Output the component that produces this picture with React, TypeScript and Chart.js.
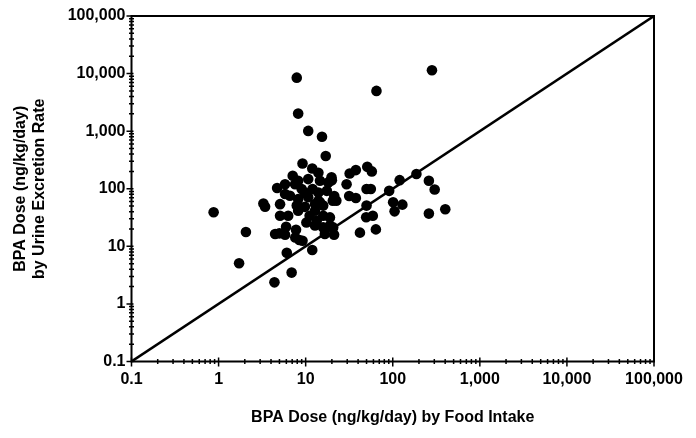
import React, { useEffect, useRef } from 'react';
import { Chart, registerables } from 'chart.js';

Chart.register(...registerables);

// BPA dose by food intake (x) and by urine excretion rate (y), ng/kg/day
const foodIntake = [
  7.9, 282, 65, 8.2, 10.7, 15.4, 17, 9.2, 11.9, 7.1,
  32, 37.7, 51, 57.5, 187, 120, 260, 303, 91, 29.5,
  50, 56, 31.6, 37.7, 21.3, 20.5, 22.5, 50, 101, 129,
  105, 260, 401, 49.5, 59, 64, 42, 0.877, 2.06, 1.72,
  3.27, 3.42, 4.7, 6.07, 4.38, 6.9, 11.9, 4.46, 4.99, 5.96,
  5.8, 7.75, 7.6, 8.46, 9.2, 15.9, 16.6, 20.7, 21.2, 5.08,
  5.8, 7.55, 10.7, 14.6, 18.2, 17.5, 14, 10.7, 8.2, 6.6,
  9.0, 12, 5.08, 6.3, 8.2, 9.8, 11.1, 10.2, 13.4, 15.9,
  19, 12.8, 14, 19.8, 8.2, 5.8, 9.8, 14, 12.8, 15.9,
  7.9, 12.8, 19, 20, 14.6,
];
const urineExcretion = [
  8500, 11400, 5000, 2020, 1010, 800, 370, 275, 225, 168,
  184, 211, 240, 200, 180, 141, 138, 97, 92, 120,
  99, 99, 75, 69, 75, 62, 62, 51, 58, 53,
  40.5, 37, 44, 32, 34, 19.7, 17.3, 39, 17.7, 5.07,
  55.6, 48.7, 103, 7.7, 2.37, 3.5, 8.65, 16.4, 16.8, 21.9,
  15.9, 19.4, 14.3, 12.9, 12.5, 21.3, 16.4, 21.3, 15.9, 54,
  81, 120, 147, 138, 129, 92, 62, 71, 66, 75.5,
  98.6, 98.6, 34, 34, 41.5, 48.5, 34, 26, 27.9, 34,
  31.8, 41.5, 190, 158, 138, 120, 86, 86, 54, 51,
  51, 23, 23, 140, 58,
];

const decadeValues = [0.1, 1, 10, 100, 1000, 10000, 100000];
const decadeLabels = ['0.1', '1', '10', '100', '1,000', '10,000', '100,000'];
const identityLine = [0.1, 100000];

const xTitle = 'BPA Dose (ng/kg/day) by Food Intake';
const yTitle = ['BPA Dose (ng/kg/day)', 'by Urine Excretion Rate'];

const FONT = '"Liberation Sans", Arial, sans-serif';

function allTickValues(): number[] {
  const vals: number[] = [];
  for (let i = 0; i < decadeValues.length - 1; i++) {
    for (let m = 1; m <= 9; m++) vals.push(m * decadeValues[i]);
  }
  vals.push(decadeValues[decadeValues.length - 1]);
  return vals;
}

function decadeIndex(v: number): number {
  return decadeValues.findIndex((d) => Math.abs(Math.log10(v) - Math.log10(d)) < 1e-6);
}

const framePlugin = {
  id: 'frameTicks',
  afterDraw(chart: any) {
    const { ctx, chartArea } = chart;
    const { left, right, top, bottom } = chartArea;
    const xs = chart.scales.x;
    const ys = chart.scales.y;
    ctx.save();
    ctx.strokeStyle = '#000';
    ctx.lineWidth = 2;
    ctx.strokeRect(left, top, right - left, bottom - top);
    ctx.lineWidth = 1.5;
    ctx.beginPath();
    for (const v of allTickValues()) {
      const major = decadeIndex(v) >= 0;
      const px = xs.getPixelForValue(v);
      if (major) {
        ctx.moveTo(px, bottom - 4);
        ctx.lineTo(px, bottom + 5);
      } else {
        ctx.moveTo(px, bottom - 2.5);
        ctx.lineTo(px, bottom + 2.5);
      }
      const py = ys.getPixelForValue(v);
      if (major) {
        ctx.moveTo(left - 5, py);
        ctx.lineTo(left + 2, py);
      } else {
        ctx.moveTo(left - 2.5, py);
        ctx.lineTo(left + 2.5, py);
      }
    }
    ctx.stroke();
    ctx.restore();
  },
};

function tickConfig(padding: number) {
  return {
    autoSkip: false,
    maxRotation: 0,
    minRotation: 0,
    padding,
    color: '#000',
    font: { family: FONT, size: 16, weight: 'bold' as const },
    callback: (value: any) => {
      const i = decadeIndex(Number(value));
      return i >= 0 ? decadeLabels[i] : '';
    },
  };
}

export default function App() {
  const canvasRef = useRef<HTMLCanvasElement | null>(null);

  useEffect(() => {
    if (!canvasRef.current) return;
    const points = foodIntake.map((x, i) => ({ x, y: urineExcretion[i] }));
    const line = identityLine.map((v) => ({ x: v, y: v }));
    const chart = new Chart(canvasRef.current, {
      type: 'scatter',
      data: {
        datasets: [
          {
            data: points,
            backgroundColor: '#000',
            borderColor: '#000',
            borderWidth: 0,
            pointRadius: 5.3,
            order: 0,
          },
          {
            data: line,
            showLine: true,
            borderColor: '#000',
            borderWidth: 2.5,
            pointRadius: 0,
            order: 1,
          } as any,
        ],
      },
      options: {
        animation: false,
        responsive: false,
        devicePixelRatio: 1,
        layout: { padding: { top: 16, right: 42, left: 0, bottom: 0 } },
        plugins: { legend: { display: false }, tooltip: { enabled: false } },
        scales: {
          x: {
            type: 'logarithmic',
            min: 0.1,
            max: 100000,
            afterBuildTicks: (scale: any) => {
              scale.ticks = allTickValues().map((value) => ({ value }));
            },
            afterFit: (scale: any) => {
              scale.height = 76.5;
            },
            grid: { display: false, drawTicks: false },
            border: { display: false },
            ticks: tickConfig(8),
            title: {
              display: true,
              text: xTitle,
              color: '#000',
              font: { family: FONT, size: 16, weight: 'bold' },
              padding: { top: 0, bottom: 11 },
            },
          },
          y: {
            type: 'logarithmic',
            min: 0.1,
            max: 100000,
            afterBuildTicks: (scale: any) => {
              scale.ticks = allTickValues().map((value) => ({ value }));
            },
            afterFit: (scale: any) => {
              scale.width = 131.5;
            },
            grid: { display: false, drawTicks: false },
            border: { display: false },
            ticks: tickConfig(6),
            title: {
              display: true,
              text: yTitle,
              color: '#000',
              font: { family: FONT, size: 16, weight: 'bold' },
              padding: { top: 11, bottom: 0 },
            },
          },
        },
      } as any,
      plugins: [framePlugin],
    });
    return () => chart.destroy();
  }, []);

  return (
    <div style={{ position: 'fixed', left: 0, top: 0, width: 696, height: 438, background: '#fff' }}>
      <canvas ref={canvasRef} width={696} height={438} style={{ width: 696, height: 438 }} />
    </div>
  );
}
